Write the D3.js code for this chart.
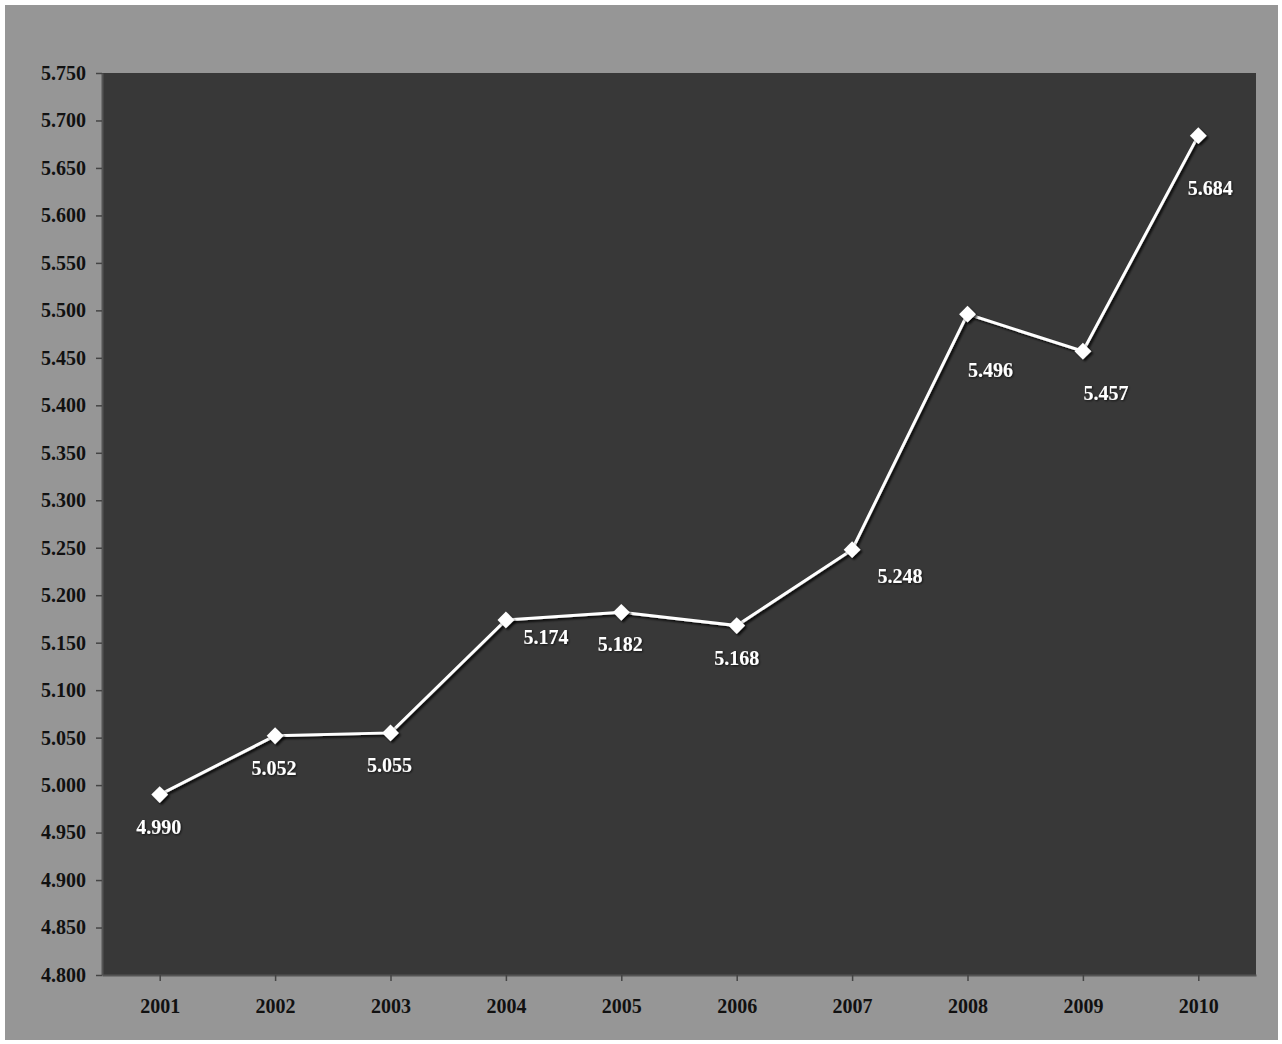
<!DOCTYPE html>
<html>
<head>
<meta charset="utf-8">
<script src="https://cdn.jsdelivr.net/npm/d3@7"></script>
<style>
  html, body { margin: 0; padding: 0; background: #ffffff; }
  svg { display: block; }
</style>
</head>
<body>
<svg id="chart" width="1282" height="1044"></svg>
<script>
const years = ["2001","2002","2003","2004","2005","2006","2007","2008","2009","2010"];
const values = [4.990, 5.052, 5.055, 5.174, 5.182, 5.168, 5.248, 5.496, 5.457, 5.684];
const valueLabels = ["4.990","5.052","5.055","5.174","5.182","5.168","5.248","5.496","5.457","5.684"];
const yTicks = [4.80,4.85,4.90,4.95,5.00,5.05,5.10,5.15,5.20,5.25,5.30,5.35,5.40,5.45,5.50,5.55,5.60,5.65,5.70,5.75];
// label offsets relative to each point (styling)
const labelOffsets = [[-1,39],[-1,39],[-1,39],[40,24],[-1,39],[0,39],[48,33],[23,63],[23,49],[12,59]];

const svg = d3.select("#chart");
const W = 1282, H = 1044;
svg.append("rect").attr("x",0).attr("y",0).attr("width",W).attr("height",H).attr("fill","#ffffff");
svg.append("rect").attr("x",5).attr("y",5).attr("width",1273).attr("height",1035).attr("fill","#969696");

const defs = svg.append("defs");
const f = defs.append("filter").attr("id","sh").attr("x","-50%").attr("y","-50%").attr("width","200%").attr("height","200%");
f.append("feDropShadow").attr("dx",2).attr("dy",2).attr("stdDeviation",1).attr("flood-color","#000").attr("flood-opacity",0.8);
const f2 = defs.append("filter").attr("id","tsh").attr("x","-20%").attr("y","-20%").attr("width","140%").attr("height","140%");
f2.append("feDropShadow").attr("dx",1).attr("dy",1).attr("stdDeviation",0.8).attr("flood-color","#000").attr("flood-opacity",0.7);

const m = {left:102, right:1256, top:73, bottom:975};
const x = d3.scalePoint().domain(years).range([m.left, m.right]).padding(0.5);
const y = d3.scaleLinear().domain([4.80, 5.75]).range([m.bottom, m.top]);

svg.append("rect").attr("x",m.left).attr("y",m.top).attr("width",m.right-m.left).attr("height",m.bottom-m.top).attr("fill","#383838");

const font = "'Liberation Serif','Times New Roman',serif";

const yAxis = svg.append("g").attr("transform",`translate(${m.left},0)`)
  .call(d3.axisLeft(y).tickValues(yTicks).tickFormat(d3.format(".3f")).tickSizeInner(6).tickSizeOuter(0).tickPadding(10));
yAxis.select(".domain").attr("stroke","#555").attr("stroke-width",2);
yAxis.selectAll(".tick line").attr("stroke","#444").attr("stroke-width",1.5);
yAxis.selectAll(".tick text").attr("fill","#111").style("font-family",font).style("font-weight","bold").style("font-size","20px");

const xAxis = svg.append("g").attr("transform",`translate(0,${m.bottom})`)
  .call(d3.axisBottom(x).tickSizeInner(6).tickSizeOuter(0).tickPadding(18));
xAxis.select(".domain").attr("stroke","#555").attr("stroke-width",2);
xAxis.selectAll(".tick line").attr("stroke","#444").attr("stroke-width",1.5);
xAxis.selectAll(".tick text").attr("fill","#111").style("font-family",font).style("font-weight","bold").style("font-size","20px");

const line = d3.line().x((d,i)=>x(years[i])).y(d=>y(d));
svg.append("path").datum(values).attr("d",line).attr("fill","none").attr("stroke","#ffffff").attr("stroke-width",3).attr("filter","url(#sh)");

const diamond = d3.symbol().type(d3.symbolDiamond2).size(180);
svg.append("g").selectAll("path").data(values).join("path")
  .attr("d",diamond)
  .attr("transform",(d,i)=>`translate(${x(years[i])},${y(d)})`)
  .attr("fill","#ffffff").attr("filter","url(#sh)");

svg.append("g").selectAll("text").data(values).join("text")
  .attr("x",(d,i)=>x(years[i])+labelOffsets[i][0])
  .attr("y",(d,i)=>y(d)+labelOffsets[i][1])
  .attr("text-anchor","middle")
  .attr("fill","#ffffff")
  .attr("filter","url(#tsh)")
  .style("font-family",font).style("font-weight","bold").style("font-size","20px")
  .text((d,i)=>valueLabels[i]);
</script>
</body>
</html>
